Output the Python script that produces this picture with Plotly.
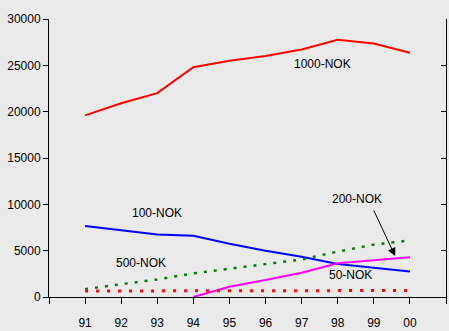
import plotly.graph_objects as go

years = ["91", "92", "93", "94", "95", "96", "97", "98", "99", "00"]
idx = list(range(len(years)))

nok1000 = [19600, 20900, 22000, 24800, 25500, 26000, 26700, 27750, 27350, 26350]
nok100 = [7650, 7200, 6750, 6620, 5750, 5000, 4350, 3550, 3150, 2750]
nok500 = [850, 1370, 1900, 2550, 3050, 3500, 4050, 4900, 5650, 6100]
nok200 = [None, None, None, 0, 1100, 1830, 2620, 3630, 3950, 4280]
nok50 = [650, 650, 650, 650, 650, 650, 650, 720, 650, 700]

y_ticks = [0, 5000, 10000, 15000, 20000, 25000, 30000]

font_family = "Liberation Sans, Arial, sans-serif"
font_size = 12

fig = go.Figure()
fig.add_trace(go.Scatter(x=idx, y=nok1000, mode="lines", line=dict(color="#FF0000", width=2)))
fig.add_trace(go.Scatter(x=idx, y=nok100, mode="lines", line=dict(color="#0000FF", width=2)))
fig.add_trace(go.Scatter(x=idx, y=nok500, mode="lines",
                         line=dict(color="#008000", width=2.5, dash="3px,7px")))
fig.add_trace(go.Scatter(x=idx, y=nok200, mode="lines", line=dict(color="#FF00FF", width=2)))
fig.add_trace(go.Scatter(x=idx, y=nok50, mode="lines",
                         line=dict(color="#FF0000", width=3, dash="3px,8px")))
# invisible trace to carry the right-hand axis
fig.add_trace(go.Scatter(x=[0], y=[0], yaxis="y2", mode="markers",
                         marker=dict(opacity=0), hoverinfo="skip"))

x_tickvals = list(range(-1, len(years) + 1))
x_ticktext = [""] + years + [""]

fig.update_layout(
    width=449, height=331,
    margin=dict(l=49, r=3, t=19, b=34),
    paper_bgcolor="#EAEAEA", plot_bgcolor="#EAEAEA",
    showlegend=False,
    font=dict(family=font_family, size=font_size, color="#000000"),
    xaxis=dict(range=[-1, 10], tickvals=x_tickvals, ticktext=x_ticktext,
               showgrid=False, zeroline=False, showline=True, linecolor="#000000",
               linewidth=1, ticks="outside", ticklen=6, tickcolor="#000000",
               ticklabelstandoff=9, automargin=False,
               tickfont=dict(size=font_size), fixedrange=True),
    yaxis=dict(range=[0, 30000], tickvals=y_ticks, ticktext=[str(v) for v in y_ticks],
               showgrid=False, zeroline=False, showline=True, linecolor="#000000",
               linewidth=1, ticks="outside", ticklen=5, tickcolor="#000000",
               automargin=False,
               tickfont=dict(size=font_size), fixedrange=True),
    yaxis2=dict(range=[0, 30000], overlaying="y", side="right", tickvals=y_ticks,
                showticklabels=False, showgrid=False, zeroline=False, showline=True,
                linecolor="#000000", linewidth=1, ticks="inside", ticklen=5,
                tickcolor="#000000", automargin=False, fixedrange=True),
)

labels = [
    ("1000-NOK", 6.59, 25140),
    ("100-NOK", 1.98, 9065),
    ("500-NOK", 1.56, 3670),
    ("200-NOK", 7.53, 10575),
    ("50-NOK", 7.34, 2374),
]
for text, x, y in labels:
    fig.add_annotation(x=x, y=y, text=text, showarrow=False,
                       font=dict(family=font_family, size=font_size, color="#000000"))

# arrow pointing from the 200-NOK label to its line
fig.add_annotation(x=8.59, y=4424, ax=7.98, ay=9500, axref="x", ayref="y",
                   text="", showarrow=True, arrowhead=2, arrowsize=1.6,
                   arrowwidth=1, arrowcolor="#000000")

fig.write_html("out.html")
